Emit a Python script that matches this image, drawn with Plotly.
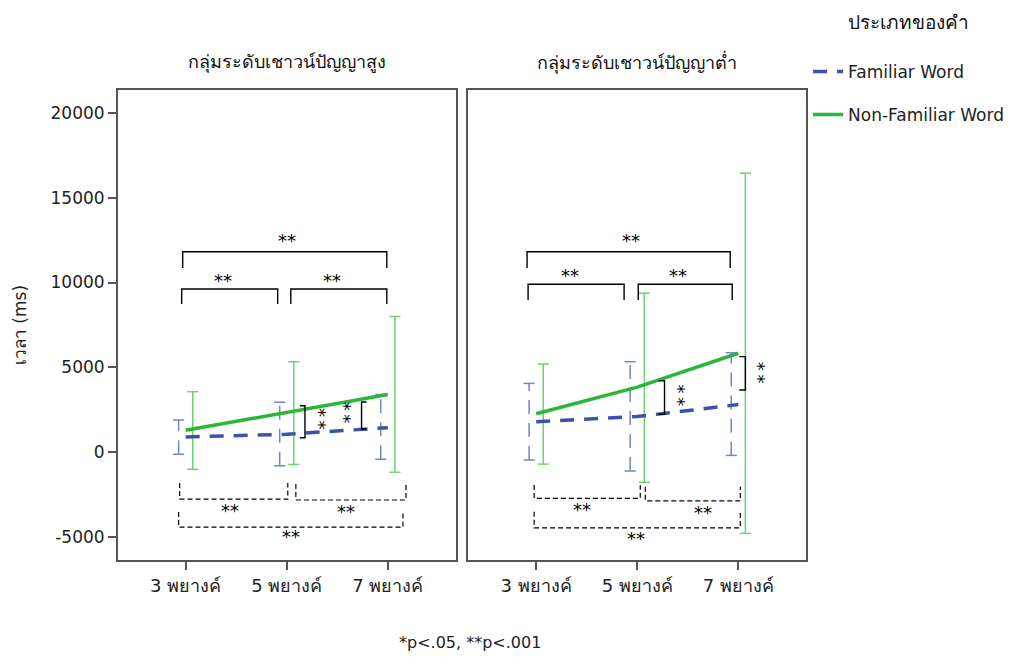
import plotly.graph_objects as go
from plotly.subplots import make_subplots

# ---------------- data ----------------
categories = ["3 พยางค์", "5 พยางค์", "7 พยางค์"]
panel_titles = ["กลุ่มระดับเชาวน์ปัญญาสูง", "กลุ่มระดับเชาวน์ปัญญาต่ำ"]
series_names = ["Familiar Word", "Non-Familiar Word"]
y_ticks = [-5000, 0, 5000, 10000, 15000, 20000]
y_tick_labels = ["-5000", "0", "5000", "10000", "15000", "20000"]

# high-IQ group
high_fam_mean = [890, 1050, 1440]
high_fam_lo = [-130, -810, -430]
high_fam_hi = [1890, 2930, 3400]
high_non_mean = [1280, 2330, 3400]
high_non_lo = [-1020, -730, -1200]
high_non_hi = [3560, 5330, 7990]

# low-IQ group
low_fam_mean = [1790, 2090, 2800]
low_fam_lo = [-470, -1120, -200]
low_fam_hi = [4050, 5330, 5860]
low_non_mean = [2260, 3830, 5830]
low_non_lo = [-710, -1790, -4800]
low_non_hi = [5195, 9370, 16450]

# significance brackets (category units / ms)
# solid brackets above: (x0, x1, y_top, y_leg, label_x, label_y)
high_top_brackets = [(-0.03, 1.99, 11820, 10860, 1.0, 12500),
                     (-0.04, 0.91, 9620, 8740, 0.37, 10150),
                     (1.04, 1.99, 9620, 8740, 1.45, 10150)]
low_top_brackets = [(-0.09, 1.92, 11820, 10860, 0.94, 12500),
                    (-0.08, 0.87, 9900, 8970, 0.33, 10400),
                    (1.01, 1.94, 9900, 8970, 1.40, 10400)]
# dashed brackets below: (x0, x1, y_top, y_bottom, label_x, label_y)
high_bottom_brackets = [(-0.06, 1.01, -1830, -2780, 0.44, -3450),
                        (1.09, 2.18, -1890, -2830, 1.59, -3500),
                        (-0.07, 2.15, -3540, -4430, 1.04, -5000)]
low_bottom_brackets = [(-0.02, 1.03, -1950, -2730, 0.45, -3400),
                       (1.08, 2.02, -2050, -2880, 1.65, -3550),
                       (-0.02, 2.02, -3520, -4470, 0.99, -5100)]
# vertical brackets: (x_tip, x_spine, y0, y1, label_x, label_y)
high_side_brackets = [(1.13, 1.18, 2730, 840, 1.32, 1950),
                      (1.79, 1.74, 2950, 1360, 1.58, 2300)]
low_side_brackets = [(1.21, 1.27, 4210, 2230, 1.41, 3350),
                     (2.01, 2.07, 5630, 3660, 2.20, 4700)]

footnote = "*p<.05, **p<.001"
legend_title = "ประเภทของคำ"
y_title = "เวลา (ms)"

# ---------------- style ----------------
BLUE = "rgb(58,82,172)"
BLUE_EB = "rgb(112,135,205)"
GREEN = "rgb(44,182,56)"
GREEN_EB = "rgb(110,210,110)"
AXIS = "#555555"
FONT = "Tahoma, DejaVu Sans, Noto Sans, sans-serif"
DODGE = 0.07
CAP = 0.055
STAR = dict(size=18, color="black", family=FONT)

fig = make_subplots(rows=1, cols=2, horizontal_spacing=0.0188,
                    subplot_titles=panel_titles)

xs = list(range(len(categories)))


def errbar_xy(means, lo, hi, offset):
    ex, ey = [], []
    for i in xs:
        x = i + offset
        ex += [x, x, None, x - CAP, x + CAP, None, x - CAP, x + CAP, None]
        ey += [lo[i], hi[i], None, lo[i], lo[i], None, hi[i], hi[i], None]
    return ex, ey


panels = [
    (high_fam_mean, high_fam_lo, high_fam_hi, high_non_mean, high_non_lo, high_non_hi),
    (low_fam_mean, low_fam_lo, low_fam_hi, low_non_mean, low_non_lo, low_non_hi),
]

for c, (fm, fl, fh, nm, nl, nh) in enumerate(panels, start=1):
    ex, ey = errbar_xy(fm, fl, fh, -DODGE)
    fig.add_trace(go.Scatter(x=ex, y=ey, mode="lines",
                             line=dict(color=BLUE_EB, width=1.5, dash="14px,9px"),
                             showlegend=False, hoverinfo="skip"), row=1, col=c)
    ex, ey = errbar_xy(nm, nl, nh, DODGE)
    fig.add_trace(go.Scatter(x=ex, y=ey, mode="lines",
                             line=dict(color=GREEN_EB, width=1.5),
                             showlegend=False, hoverinfo="skip"), row=1, col=c)
    fig.add_trace(go.Scatter(x=xs, y=fm, mode="lines", name=series_names[0],
                             legendgroup="fam",
                             line=dict(color=BLUE, width=3.5, dash="14px,10px"),
                             showlegend=(c == 1)), row=1, col=c)
    fig.add_trace(go.Scatter(x=xs, y=nm, mode="lines", name=series_names[1],
                             legendgroup="non",
                             line=dict(color=GREEN, width=3.5),
                             showlegend=(c == 1)), row=1, col=c)

# brackets
bracket_sets = [
    (1, high_top_brackets, high_bottom_brackets, high_side_brackets),
    (2, low_top_brackets, low_bottom_brackets, low_side_brackets),
]
for c, tops, bottoms, sides in bracket_sets:
    xr = "x" if c == 1 else "x2"
    yr = "y" if c == 1 else "y2"
    for x0, x1, yt, yl, lx, ly in tops:
        fig.add_shape(type="path", xref=xr, yref=yr,
                      path=f"M {x0},{yl} L {x0},{yt} L {x1},{yt} L {x1},{yl}",
                      line=dict(color="black", width=1.4))
        fig.add_annotation(x=lx, y=ly, xref=xr, yref=yr, text="**", showarrow=False,
                           font=STAR)
    for x0, x1, yt, yb, lx, ly in bottoms:
        fig.add_shape(type="path", xref=xr, yref=yr,
                      path=f"M {x0},{yt} L {x0},{yb} L {x1},{yb} L {x1},{yt}",
                      line=dict(color="black", width=1.2, dash="5px,3px"))
        fig.add_annotation(x=lx, y=ly, xref=xr, yref=yr, text="**", showarrow=False,
                           font=STAR)
    for xt, xs_, y0, y1, lx, ly in sides:
        fig.add_shape(type="path", xref=xr, yref=yr,
                      path=f"M {xt},{y0} L {xs_},{y0} L {xs_},{y1} L {xt},{y1}",
                      line=dict(color="black", width=1.4))
        fig.add_annotation(x=lx, y=ly, xref=xr, yref=yr, text="*\u2009*", textangle=90,
                           showarrow=False, font=STAR)

axis_common = dict(showline=True, linecolor=AXIS, linewidth=2, mirror=True,
                   showgrid=False, zeroline=False)
for c in (1, 2):
    fig.update_xaxes(range=[-0.67, 2.67], tickmode="array", tickvals=xs,
                     ticktext=categories, ticks="outside", ticklen=8,
                     tickcolor=AXIS, tickwidth=1.5,
                     tickfont=dict(size=18, color="#222", family=FONT),
                     row=1, col=c, **axis_common)
fig.update_yaxes(range=[-6370, 21360], tickmode="array", tickvals=y_ticks,
                 ticktext=y_tick_labels,
                 ticks="outside", ticklen=8, tickcolor=AXIS, tickwidth=1.5,
                 tickfont=dict(size=17, color="#222", family=FONT),
                 title=dict(text=y_title, font=dict(size=17, color="#222", family=FONT),
                            standoff=20),
                 row=1, col=1, **axis_common)
fig.update_yaxes(range=[-6370, 21360], showticklabels=False, ticks="",
                 row=1, col=2, **axis_common)

for ann in fig.layout.annotations[:2]:
    ann.update(y=1.06, yanchor="middle", font=dict(size=18, color="#111", family=FONT))

fig.add_annotation(x=0.512, y=-0.2, xref="paper", yref="paper", text=footnote,
                   showarrow=False, font=dict(size=16, color="#222", family=FONT))

fig.update_layout(
    width=1018, height=657,
    margin=dict(l=118, r=212, t=90, b=97, autoexpand=False),
    paper_bgcolor="white", plot_bgcolor="white",
    font=dict(family=FONT, color="#222"),
    legend=dict(x=1.003, xanchor="left", y=1.182, yanchor="top",
                title=dict(text=legend_title + "<br> ", side="top center",
                           font=dict(size=19, color="#111", family=FONT)),
                font=dict(size=17, color="#222", family=FONT),
                tracegroupgap=18, itemwidth=30, bgcolor="rgba(0,0,0,0)"),
)

fig.write_html("out.html")
